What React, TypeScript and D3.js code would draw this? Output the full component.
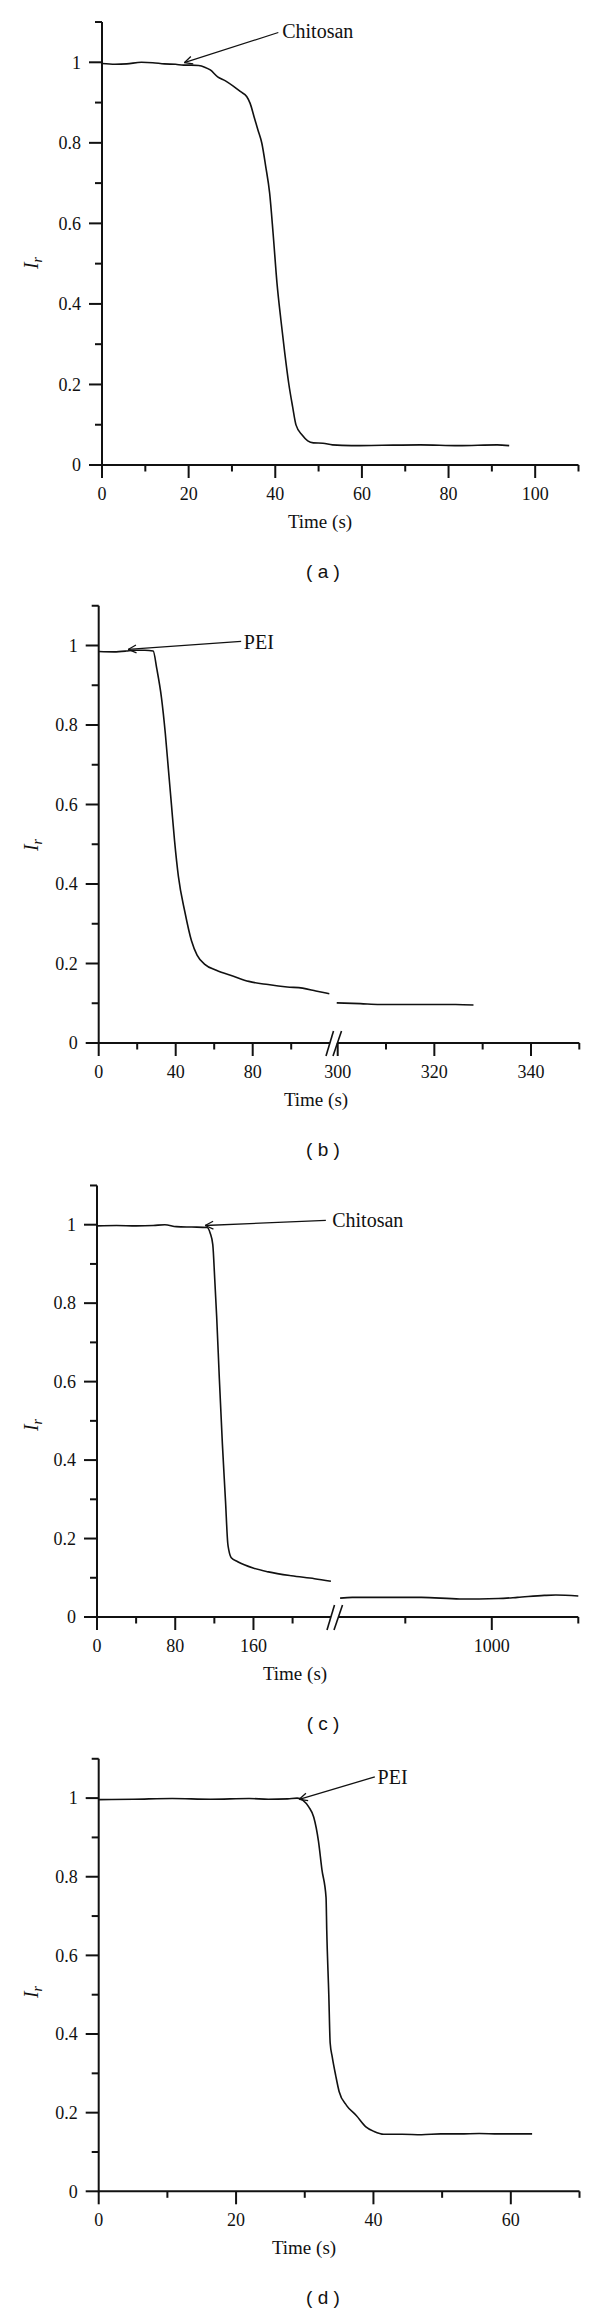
import React from 'react';
import * as d3 from 'd3';

// ---------- Data ----------
const yMajor = [0, 0.2, 0.4, 0.6, 0.8, 1];
const yMinor = [0.1, 0.3, 0.5, 0.7, 0.9, 1.1];
const yLabels = ['0', '0.2', '0.4', '0.6', '0.8', '1'];

// Panel (a) – Chitosan
const timeA = [0, 3, 5.7, 9.1, 11.7, 14.4, 17, 18.8, 20.6, 22.3, 23.7, 25, 26.7, 28.5, 30.3, 32, 33.4, 34.2, 35.1, 36, 36.9, 37.8, 38.7, 39.5, 40.4, 41.3, 42.2, 43.1, 44, 44.8, 46.2, 47.5, 48.8, 51, 53.2, 57.6, 64.7, 73.5, 82.3, 91.2, 94];
const irA = [0.997, 0.995, 0.996, 1.0, 0.999, 0.996, 0.995, 0.993, 0.993, 0.992, 0.988, 0.981, 0.964, 0.954, 0.941, 0.927, 0.915, 0.898, 0.865, 0.832, 0.799, 0.741, 0.675, 0.575, 0.451, 0.36, 0.277, 0.203, 0.145, 0.099, 0.0745, 0.06, 0.055, 0.054, 0.05, 0.048, 0.049, 0.05, 0.048, 0.05, 0.048];
const ticksA = [0, 20, 40, 60, 80, 100];
const minorA = [10, 30, 50, 70, 90, 110];

// Panel (b) – PEI (broken axis)
const timeB1 = [0, 8, 14.3, 18, 24, 28.3, 30.2, 32.6, 34.6, 36.2, 37.8, 39.4, 41.4, 44.8, 48.2, 51.1, 55.1, 61.1, 70, 78, 88, 97.9, 105.9, 112.8, 119.8];
const irB1 = [0.985, 0.984, 0.986, 0.988, 0.988, 0.986, 0.941, 0.869, 0.779, 0.689, 0.599, 0.509, 0.419, 0.329, 0.257, 0.221, 0.198, 0.183, 0.168, 0.155, 0.147, 0.141, 0.138, 0.131, 0.124];
const timeB2 = [299.8, 304.7, 308.7, 316, 324.4, 328.1];
const irB2 = [0.101, 0.099, 0.097, 0.097, 0.097, 0.0956];
const ticksB1 = [0, 40, 80];
const minorB1 = [20, 60, 100];
const ticksB2 = [300, 320, 340];
const minorB2 = [310, 330, 350];

// Panel (c) – Chitosan (broken axis)
const timeC1 = [0, 20, 40, 57.6, 69.4, 81.2, 96.9, 112.5, 115.7, 118.4, 120.4, 122.4, 125.1, 128.2, 131.4, 133.7, 134.9, 137.3, 143.9, 159.6, 175.3, 198.8, 222.4, 239.2];
const irC1 = [0.997, 0.998, 0.997, 0.998, 1.0, 0.995, 0.994, 0.993, 0.979, 0.949, 0.861, 0.764, 0.608, 0.442, 0.296, 0.188, 0.169, 0.151, 0.141, 0.125, 0.115, 0.105, 0.0976, 0.091];
const timeC2 = [859.7, 871, 899.4, 934.9, 970.4, 988.2, 1006, 1023.7, 1048.6, 1059.2, 1080];
const irC2 = [0.048, 0.05, 0.05, 0.05, 0.046, 0.046, 0.047, 0.05, 0.055, 0.056, 0.0535];
const ticksC1 = [0, 80, 160];
const minorC1 = [40, 120, 200];
const ticksC2 = [1000];
const minorC2 = [920, 1080];

// Panel (d) – PEI
const timeD = [0, 5.1, 10.7, 16.3, 21.9, 24.7, 27.5, 28.9, 29.7, 30.6, 31.3, 32, 32.5, 33.1, 33.2, 33.5, 33.7, 34, 34.5, 35, 36.1, 37.5, 38.9, 40.1, 41.5, 44.2, 47, 49.8, 52.6, 55.4, 58.2, 63.1];
const irD = [0.996, 0.997, 0.999, 0.997, 0.999, 0.997, 0.998, 1.0, 0.995, 0.977, 0.952, 0.89, 0.818, 0.747, 0.665, 0.5, 0.377, 0.342, 0.295, 0.254, 0.218, 0.193, 0.164, 0.152, 0.145, 0.145, 0.144, 0.146, 0.146, 0.147, 0.146, 0.146];
const ticksD = [0, 20, 40, 60];
const minorD = [10, 30, 50, 70];

// ---------- Layout ----------
const SERIF = '"Liberation Serif", "Times New Roman", serif';
const SANS = '"Liberation Sans", Arial, sans-serif';
const INK = '#111';

type Seg = { domain: [number, number]; range: [number, number]; axis: [number, number]; major: number[]; minor: number[] };
type Series = { seg: number; t: number[]; v: number[] };
type Ann = { text: string; seg: number; tip: [number, number]; tail: [number, number]; at: [number, number] };
type PanelCfg = {
  x0: number; y0: number; yUnit: number;
  segs: Seg[]; series: Series[]; breakX: number | null;
  ann: Ann; letter: string; timeX: number; irY: number;
};

const panels: PanelCfg[] = [
  {
    x0: 102, y0: 465, yUnit: 402.7,
    segs: [{ domain: [0, 110], range: [102, 578.5], axis: [102, 578.5], major: ticksA, minor: minorA }],
    series: [{ seg: 0, t: timeA, v: irA }],
    breakX: null,
    ann: { text: 'Chitosan', seg: 0, tip: [19, 0.999], tail: [40.7, 1.074], at: [41.6, 1.078] },
    letter: 'a', timeX: 320, irY: 263,
  },
  {
    x0: 98.7, y0: 1043, yUnit: 397.5,
    segs: [
      { domain: [0, 120], range: [98.7, 329.7], axis: [98.7, 330], major: ticksB1, minor: minorB1 },
      { domain: [300, 350], range: [337.7, 579.3], axis: [337.5, 579.3], major: ticksB2, minor: minorB2 },
    ],
    series: [{ seg: 0, t: timeB1, v: irB1 }, { seg: 1, t: timeB2, v: irB2 }],
    breakX: 334,
    ann: { text: 'PEI', seg: 0, tip: [15.3, 0.99], tail: [74, 1.0105], at: [75.4, 1.009] },
    letter: 'b', timeX: 316, irY: 845,
  },
  {
    x0: 97, y0: 1617, yUnit: 392.3,
    segs: [
      { domain: [0, 240], range: [97, 331.7], axis: [97, 331], major: ticksC1, minor: minorC1 },
      { domain: [920, 1080], range: [405.3, 578.3], axis: [338.5, 578.3], major: ticksC2, minor: minorC2 },
    ],
    series: [{ seg: 0, t: timeC1, v: irC1 }, { seg: 1, t: timeC2, v: irC2 }],
    breakX: 335,
    ann: { text: 'Chitosan', seg: 0, tip: [110.6, 0.998], tail: [234, 1.011], at: [240.5, 1.013] },
    letter: 'c', timeX: 295, irY: 1425,
  },
  {
    x0: 98.7, y0: 2191.3, yUnit: 393.2,
    segs: [{ domain: [0, 70], range: [98.7, 579.5], axis: [98.7, 579.5], major: ticksD, minor: minorD }],
    series: [{ seg: 0, t: timeD, v: irD }],
    breakX: null,
    ann: { text: 'PEI', seg: 0, tip: [29.2, 0.997], tail: [40.2, 1.054], at: [40.6, 1.054] },
    letter: 'd', timeX: 304, irY: 1992,
  },
];

const MAJ = 13;
const MIN = 6.5;

function Panel({ cfg }: { cfg: PanelCfg }) {
  const y = d3.scaleLinear().domain([0, 1.1]).range([cfg.y0, cfg.y0 - 1.1 * cfg.yUnit]);
  const xs = cfg.segs.map((s) => d3.scaleLinear().domain(s.domain).range(s.range));
  const line = (sx: d3.ScaleLinear<number, number>) =>
    d3.line<[number, number]>().x((d) => sx(d[0])).y((d) => y(d[1])).curve(d3.curveMonotoneX);

  const a = cfg.ann;
  const ax = xs[a.seg];
  const tipX = ax(a.tip[0]), tipY = y(a.tip[1]);
  const tailX = ax(a.tail[0]), tailY = y(a.tail[1]);
  const ang = Math.atan2(tailY - tipY, tailX - tipX);
  const hl = 9, ha = 0.45;
  const barb = (s: number) => `M${tipX + hl * Math.cos(ang + s * ha)},${tipY + hl * Math.sin(ang + s * ha)}L${tipX},${tipY}`;

  return (
    <g>
      {/* y axis */}
      <line x1={cfg.x0} x2={cfg.x0} y1={y(0) + 1} y2={y(1.1)} stroke={INK} strokeWidth={2} />
      {yMajor.map((v, i) => (
        <g key={'ym' + i}>
          <line x1={cfg.x0 - MAJ} x2={cfg.x0} y1={y(v)} y2={y(v)} stroke={INK} strokeWidth={2} />
          <text x={cfg.x0 - 21} y={y(v)} dy="0.35em" textAnchor="end" fontFamily={SERIF} fontSize={18} fill={INK}>
            {yLabels[i]}
          </text>
        </g>
      ))}
      {yMinor.map((v, i) => (
        <line key={'yn' + i} x1={cfg.x0 - 7} x2={cfg.x0} y1={y(v)} y2={y(v)} stroke={INK} strokeWidth={2} />
      ))}

      {/* x axis segments */}
      {cfg.segs.map((s, si) => (
        <g key={'seg' + si}>
          <line x1={s.axis[0]} x2={s.axis[1]} y1={y(0)} y2={y(0)} stroke={INK} strokeWidth={2} />
          {s.major.map((t) => (
            <g key={'xm' + t}>
              <line x1={xs[si](t)} x2={xs[si](t)} y1={y(0)} y2={y(0) + MAJ} stroke={INK} strokeWidth={2} />
              <text x={xs[si](t)} y={y(0) + 34.5} textAnchor="middle" fontFamily={SERIF} fontSize={18} fill={INK}>
                {t}
              </text>
            </g>
          ))}
          {s.minor.map((t) => (
            <line key={'xn' + t} x1={xs[si](t)} x2={xs[si](t)} y1={y(0)} y2={y(0) + MIN} stroke={INK} strokeWidth={2} />
          ))}
        </g>
      ))}

      {/* axis break marks */}
      {cfg.breakX !== null && (
        <g stroke={INK} strokeWidth={1.6}>
          <line x1={cfg.breakX - 8} y1={y(0) + 13} x2={cfg.breakX - 0.5} y2={y(0) - 12} />
          <line x1={cfg.breakX - 1} y1={y(0) + 13} x2={cfg.breakX + 7.5} y2={y(0) - 12} />
        </g>
      )}

      {/* data lines */}
      {cfg.series.map((s, i) => (
        <path
          key={'s' + i}
          d={line(xs[s.seg])(s.t.map((t, j) => [t, s.v[j]] as [number, number])) || ''}
          fill="none"
          stroke={INK}
          strokeWidth={1.6}
        />
      ))}

      {/* annotation */}
      <line x1={tailX} y1={tailY} x2={tipX} y2={tipY} stroke={INK} strokeWidth={1.3} />
      <path d={barb(1) + barb(-1)} fill="none" stroke={INK} strokeWidth={1.3} />
      <text x={ax(a.at[0])} y={y(a.at[1])} dy="0.35em" fontFamily={SERIF} fontSize={20} fill={INK}>
        {a.text}
      </text>

      {/* axis titles */}
      <text transform={`translate(${38},${cfg.irY}) rotate(-90)`} textAnchor="middle" fontFamily={SERIF} fontStyle="italic" fontSize={20} fill={INK}>
        I<tspan fontSize={14} dy={4}>r</tspan>
      </text>
      <text x={cfg.timeX} y={cfg.y0 + 63} textAnchor="middle" fontFamily={SERIF} fontSize={19} fill={INK}>
        Time (s)
      </text>
      <text x={323} y={cfg.y0 + 113} textAnchor="middle" fontFamily={SANS} fontSize={19} fill={INK} xmlSpace="preserve">
        {`( ${cfg.letter} )`}
      </text>
    </g>
  );
}

export default function App() {
  return (
    <svg
      width={600}
      height={2313}
      viewBox="0 0 600 2313"
      style={{ position: 'absolute', left: 0, top: 0, background: '#fff' }}
    >
      <rect x={0} y={0} width={600} height={2313} fill="#fff" />
      {panels.map((p, i) => (
        <Panel key={i} cfg={p} />
      ))}
    </svg>
  );
}
